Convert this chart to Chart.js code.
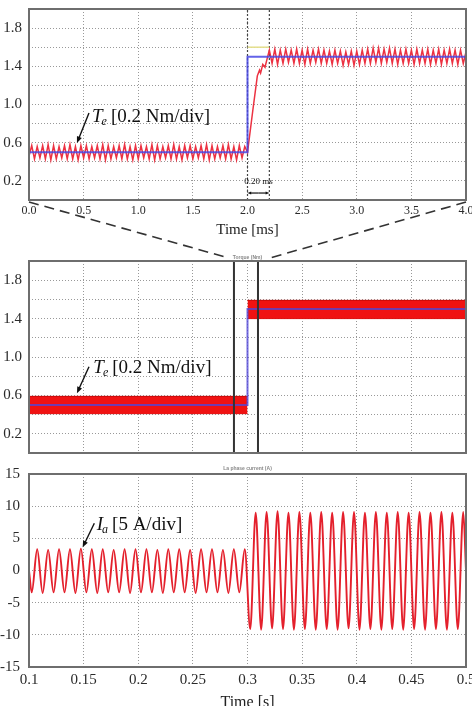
<!DOCTYPE html>
<html>
<head>
<meta charset="utf-8">
<script src="https://cdn.jsdelivr.net/npm/chart.js@4.4.0/dist/chart.umd.min.js"></script>
<style>
  html, body { margin: 0; padding: 0; background: #fff; }
  body { width: 472px; height: 706px; overflow: hidden; position: relative; }
  canvas { position: absolute; left: 0; }
  svg { position: absolute; left: 0; top: 0; pointer-events: none; }
</style>
</head>
<body>
<canvas id="zoomChart" width="472" height="242" style="top:0"></canvas>
<canvas id="torqueChart" width="472" height="209" style="top:246px"></canvas>
<canvas id="currentChart" width="472" height="255" style="top:458px"></canvas>
<svg width="472" height="706">
  <line x1="29" y1="202" x2="229" y2="258" stroke="#333" stroke-width="1.6" stroke-dasharray="10 6"/>
  <line x1="466" y1="202" x2="270" y2="258" stroke="#333" stroke-width="1.6" stroke-dasharray="10 6"/>
</svg>
<script>
// ---- zoomed torque, 0 - 4 ms ----
const teTime = [
  0,0.025,0.05,0.075,0.1,0.125,0.15,0.175,0.2,0.225,0.25,0.275,0.3,0.325,0.35,0.375,0.4,0.425,0.45,0.475,
  0.5,0.525,0.55,0.575,0.6,0.625,0.65,0.675,0.7,0.725,0.75,0.775,0.8,0.825,0.85,0.875,0.9,0.925,0.95,0.975,
  1,1.025,1.05,1.075,1.1,1.125,1.15,1.175,1.2,1.225,1.25,1.275,1.3,1.325,1.35,1.375,1.4,1.425,1.45,1.475,
  1.5,1.525,1.55,1.575,1.6,1.625,1.65,1.675,1.7,1.725,1.75,1.775,1.8,1.825,1.85,1.875,1.9,1.925,1.95,1.975,
  2,2.05,2.09,2.11,2.12,2.14,2.16,2.18,
  2.2,2.225,2.25,2.275,2.3,2.325,2.35,2.375,2.4,2.425,2.45,2.475,2.5,2.525,2.55,2.575,2.6,2.625,2.65,2.675,
  2.7,2.725,2.75,2.775,2.8,2.825,2.85,2.875,2.9,2.925,2.95,2.975,3,3.025,3.05,3.075,3.1,3.125,3.15,3.175,
  3.2,3.225,3.25,3.275,3.3,3.325,3.35,3.375,3.4,3.425,3.45,3.475,3.5,3.525,3.55,3.575,3.6,3.625,3.65,3.675,
  3.7,3.725,3.75,3.775,3.8,3.825,3.85,3.875,3.9,3.925,3.95,3.975,4
];
const teValue = [
  0.46,0.57,0.43,0.56,0.44,0.57,0.43,0.58,0.42,0.57,0.43,0.56,0.44,0.57,0.43,0.58,0.43,0.56,0.42,0.57,
  0.44,0.57,0.43,0.56,0.44,0.57,0.43,0.58,0.42,0.57,0.43,0.56,0.44,0.57,0.43,0.58,0.43,0.56,0.42,0.57,
  0.43,0.57,0.44,0.56,0.43,0.58,0.42,0.57,0.43,0.56,0.44,0.57,0.43,0.58,0.43,0.56,0.42,0.57,0.44,0.57,
  0.43,0.56,0.44,0.57,0.43,0.58,0.42,0.57,0.43,0.56,0.44,0.57,0.43,0.58,0.43,0.56,0.42,0.57,0.44,0.56,
  0.5,0.95,1.3,1.36,1.33,1.42,1.39,1.48,
  1.57,1.43,1.58,1.42,1.57,1.43,1.58,1.44,1.57,1.43,1.58,1.43,1.57,1.42,1.58,1.43,1.57,1.44,1.58,1.43,
  1.57,1.43,1.56,1.42,1.57,1.43,1.56,1.41,1.55,1.42,1.56,1.41,1.56,1.42,1.57,1.43,1.58,1.43,1.59,1.44,
  1.59,1.43,1.58,1.44,1.59,1.43,1.58,1.42,1.57,1.43,1.58,1.43,1.57,1.42,1.58,1.43,1.57,1.43,1.58,1.42,
  1.57,1.43,1.58,1.42,1.57,1.43,1.58,1.43,1.57,1.42,1.57,1.43,1.55
];
const teRefTime = [0, 2, 2, 4];
const teRefValue = [0.5, 0.5, 1.5, 1.5];
const teCmdTime = [2, 2.2];
const teCmdValue = [1.6, 1.6];
const stepMarkTime = [2, 2.2];

// ---- torque over 0.1 - 0.5 s ----
const torqueRange = [0, 2];
const torqueLabels = [0.2, 0.6, 1.0, 1.4, 1.8];
const bandBeforeTime = [0.1, 0.3];
const bandBeforeUpper = [0.59, 0.59];
const bandBeforeLower = [0.41, 0.41];
const bandAfterTime = [0.3, 0.5];
const bandAfterUpper = [1.59, 1.59];
const bandAfterLower = [1.4, 1.4];
const refTime = [0.1, 0.3, 0.3, 0.5];
const refValue = [0.5, 0.5, 1.5, 1.5];
const zoomBoxTime = [0.2876, 0.2876, 0.3096, 0.3096, 0.2876];
const zoomBoxValue = [0, 2, 2, 0, 0];

// ---- phase current ----
const iaTime = [
  0.1,
  0.1025,0.1075,0.1125,0.1175,0.1225,0.1275,0.1325,0.1375,0.1425,0.1475,
  0.1525,0.1575,0.1625,0.1675,0.1725,0.1775,0.1825,0.1875,0.1925,0.1975,
  0.2025,0.2075,0.2125,0.2175,0.2225,0.2275,0.2325,0.2375,0.2425,0.2475,
  0.2525,0.2575,0.2625,0.2675,0.2725,0.2775,0.2825,0.2875,0.2925,0.2975,
  0.3025,0.3075,0.3125,0.3175,0.3225,0.3275,0.3325,0.3375,0.3425,0.3475,
  0.3525,0.3575,0.3625,0.3675,0.3725,0.3775,0.3825,0.3875,0.3925,0.3975,
  0.4025,0.4075,0.4125,0.4175,0.4225,0.4275,0.4325,0.4375,0.4425,0.4475,
  0.4525,0.4575,0.4625,0.4675,0.4725,0.4775,0.4825,0.4875,0.4925,0.4975,
  0.5
];
const iaValue = [
  0,
  -3.4,3.3,-3.5,3.2,-3.4,3.3,-3.4,3.3,-3.5,3.4,
  -3.4,3.3,-3.5,3.3,-3.4,3.2,-3.4,3.3,-3.5,3.3,
  -3.4,3.3,-3.4,3.2,-3.5,3.3,-3.4,3.3,-3.4,3.2,
  -3.5,3.3,-3.4,3.3,-3.4,3.2,-3.5,3.3,-3.4,3.3,
  -9.1,9.0,-9.2,9.1,-9.0,9.2,-9.1,9.0,-9.2,9.1,
  -9.1,9.0,-9.2,9.1,-9.1,9.0,-9.2,9.1,-9.0,9.1,
  -9.2,9.0,-9.1,9.1,-9.2,9.0,-9.1,9.1,-9.2,9.0,
  -9.1,9.1,-9.2,9.0,-9.1,9.1,-9.2,9.0,-9.1,9.1,
  0
];

const serif = "'Liberation Serif', 'DejaVu Serif', serif";
const gridOpts = { color: '#999', lineWidth: 1, drawTicks: false };
const borderOpts = { display: false, dash: [1, 2] };

function line(xs, ys, color, width, extra) {
  return Object.assign({
    data: xs.map((x, i) => ({ x: x, y: ys[i] })),
    borderColor: color, borderWidth: width,
    pointRadius: 0, fill: false, tension: 0
  }, extra || {});
}

function arrow(ctx, x0, y0, x1, y1, head) {
  const a = Math.atan2(y1 - y0, x1 - x0);
  ctx.beginPath();
  ctx.moveTo(x0, y0);
  ctx.lineTo(x1 - Math.cos(a) * head * 0.7, y1 - Math.sin(a) * head * 0.7);
  ctx.stroke();
  ctx.beginPath();
  ctx.moveTo(x1, y1);
  ctx.lineTo(x1 - head * Math.cos(a - 0.38), y1 - head * Math.sin(a - 0.38));
  ctx.lineTo(x1 - head * Math.cos(a + 0.38), y1 - head * Math.sin(a + 0.38));
  ctx.closePath();
  ctx.fill();
}

const framePlugin = {
  id: 'frame',
  afterDraw(chart) {
    const { ctx, chartArea: a } = chart;
    ctx.save();
    ctx.strokeStyle = '#6e6e6e';
    ctx.lineWidth = 2;
    ctx.strokeRect(a.left, a.top, a.right - a.left, a.bottom - a.top);
    ctx.restore();
  }
};

// signal name + scale label with a pointer arrow
function tagPlugin(tag) {
  return {
    id: 'tag',
    afterDraw(chart) {
      const { ctx, scales } = chart;
      const X = v => scales.x.getPixelForValue(v);
      const Y = v => scales.y.getPixelForValue(v);
      const px = X(tag.at[0]), py = Y(tag.at[1]);
      ctx.save();
      ctx.fillStyle = '#111';
      ctx.strokeStyle = '#111';
      ctx.textBaseline = 'middle';
      ctx.font = 'italic 19px ' + serif;
      ctx.fillText(tag.symbol, px, py);
      let w = ctx.measureText(tag.symbol).width;
      ctx.font = 'italic 12px ' + serif;
      ctx.fillText(tag.sub, px + w - 1, py + 5);
      w += ctx.measureText(tag.sub).width;
      ctx.font = '19px ' + serif;
      ctx.fillText(tag.unit, px + w + 3, py);
      ctx.lineWidth = 1.4;
      arrow(ctx, X(tag.from[0]), Y(tag.from[1]), X(tag.to[0]), Y(tag.to[1]), 7);
      if (tag.span) {
        const s = tag.span;
        ctx.font = '9px ' + serif;
        ctx.textAlign = 'center';
        ctx.fillText(s.text, X(s.textAt[0]), Y(s.textAt[1]));
        const x0 = X(s.x[0]), x1 = X(s.x[1]), yy = Y(s.y);
        const mid = (x0 + x1) / 2;
        ctx.lineWidth = 1.2;
        arrow(ctx, mid, yy, x0, yy, 4);
        arrow(ctx, mid, yy, x1, yy, 4);
      }
      ctx.restore();
    }
  };
}

function torqueY(padding) {
  return {
    min: torqueRange[0], max: torqueRange[1],
    grid: gridOpts, border: borderOpts,
    ticks: {
      stepSize: 0.2, autoSkip: false, padding: padding, color: '#2a2a2a',
      font: { family: serif, size: 15 },
      callback: v => torqueLabels.includes(Math.round(v * 10) / 10) ? v.toFixed(1) : ''
    },
    afterFit: s => { s.width = 29; s.paddingTop = 0; s.paddingBottom = 0; }
  };
}

const quiet = { legend: { display: false }, tooltip: { enabled: false } };

new Chart(document.getElementById('zoomChart'), {
  type: 'line',
  data: {
    datasets: [
      line(teRefTime, teRefValue, 'rgba(72,72,228,0.85)', 2),
      line(teTime, teValue, '#ec3242', 1.5),
      line(teCmdTime, teCmdValue, '#e4df8c', 1.5),
      ...stepMarkTime.map(t => line([t, t], torqueRange, '#444', 1.2, { borderDash: [2, 2] }))
    ]
  },
  options: {
    responsive: false, animation: false,
    layout: { padding: { top: 9, right: 6, left: 0, bottom: 0 } },
    plugins: quiet,
    scales: {
      x: {
        type: 'linear', min: 0, max: 4,
        grid: gridOpts, border: borderOpts,
        ticks: {
          stepSize: 0.5, autoSkip: false, maxRotation: 0, padding: 4, color: '#2a2a2a',
          font: { family: serif, size: 12 }, callback: v => v.toFixed(1)
        },
        title: { display: true, text: 'Time [ms]', color: '#222', font: { family: serif, size: 15 }, padding: { top: 0, bottom: 3 } },
        afterFit: s => { s.height = 42; s.paddingLeft = 0; s.paddingRight = 0; }
      },
      y: torqueY(7)
    }
  },
  plugins: [framePlugin, tagPlugin({
    symbol: 'T', sub: 'e', unit: '[0.2 Nm/div]',
    at: [0.577, 0.869], from: [0.549, 0.911], to: [0.439, 0.597],
    span: { text: '0.20 ms', textAt: [2.1, 0.19], x: [2, 2.2], y: 0.073 }
  })]
});

new Chart(document.getElementById('torqueChart'), {
  type: 'line',
  data: {
    datasets: [
      line(zoomBoxTime, zoomBoxValue, '#333', 2),
      line(refTime, refValue, 'rgba(80,70,215,0.8)', 2),
      line(bandBeforeTime, bandBeforeUpper, '#cc0000', 1, { fill: '+1', backgroundColor: '#f01212' }),
      line(bandBeforeTime, bandBeforeLower, '#cc0000', 1),
      line(bandAfterTime, bandAfterUpper, '#cc0000', 1, { fill: '+1', backgroundColor: '#f01212' }),
      line(bandAfterTime, bandAfterLower, '#cc0000', 1)
    ]
  },
  options: {
    responsive: false, animation: false,
    layout: { padding: { top: 0, right: 6, left: 0, bottom: 2 } },
    plugins: Object.assign({
      title: { display: true, fullSize: false, text: 'Torque (Nm)', color: '#888', font: { family: 'Liberation Sans', size: 5 }, padding: { top: 9, bottom: 0 } }
    }, quiet),
    scales: {
      x: {
        type: 'linear', min: 0.1, max: 0.5,
        grid: gridOpts, border: borderOpts,
        ticks: { stepSize: 0.05, autoSkip: false, display: false },
        afterFit: s => { s.height = 0; s.paddingLeft = 0; s.paddingRight = 0; }
      },
      y: torqueY(7)
    }
  },
  plugins: [framePlugin, tagPlugin({
    symbol: 'T', sub: 'e', unit: '[0.2 Nm/div]',
    at: [0.1589, 0.882], from: [0.1549, 0.899], to: [0.1439, 0.622]
  })]
});

new Chart(document.getElementById('currentChart'), {
  type: 'line',
  data: {
    datasets: [
      line(iaTime, iaValue, '#e4202c', 1.9, { cubicInterpolationMode: 'monotone' })
    ]
  },
  options: {
    responsive: false, animation: false,
    layout: { padding: { top: 0, right: 6, left: 0, bottom: 0 } },
    plugins: Object.assign({
      title: { display: true, fullSize: false, text: 'La phase current (A)', color: '#888', font: { family: 'Liberation Sans', size: 5 }, padding: { top: 8, bottom: 2 } }
    }, quiet),
    scales: {
      x: {
        type: 'linear', min: 0.1, max: 0.5,
        grid: gridOpts, border: borderOpts,
        ticks: {
          stepSize: 0.05, autoSkip: false, maxRotation: 0, padding: 4, color: '#2a2a2a',
          font: { family: serif, size: 15 }, callback: v => String(Number(v.toFixed(2)))
        },
        title: { display: true, text: 'Time [s]', color: '#222', font: { family: serif, size: 16 }, padding: { top: 0, bottom: 1 } },
        afterFit: s => { s.height = 46; s.paddingLeft = 0; s.paddingRight = 0; }
      },
      y: {
        min: -15, max: 15,
        grid: gridOpts, border: borderOpts,
        ticks: { stepSize: 5, autoSkip: false, padding: 9, color: '#2a2a2a', font: { family: serif, size: 15 } },
        afterFit: s => { s.width = 29; s.paddingTop = 0; s.paddingBottom = 0; }
      }
    }
  },
  plugins: [framePlugin, tagPlugin({
    symbol: 'I', sub: 'a', unit: '[5 A/div]',
    at: [0.162, 7.07], from: [0.1598, 7.34], to: [0.1491, 3.6]
  })]
});
</script>
</body>
</html>
